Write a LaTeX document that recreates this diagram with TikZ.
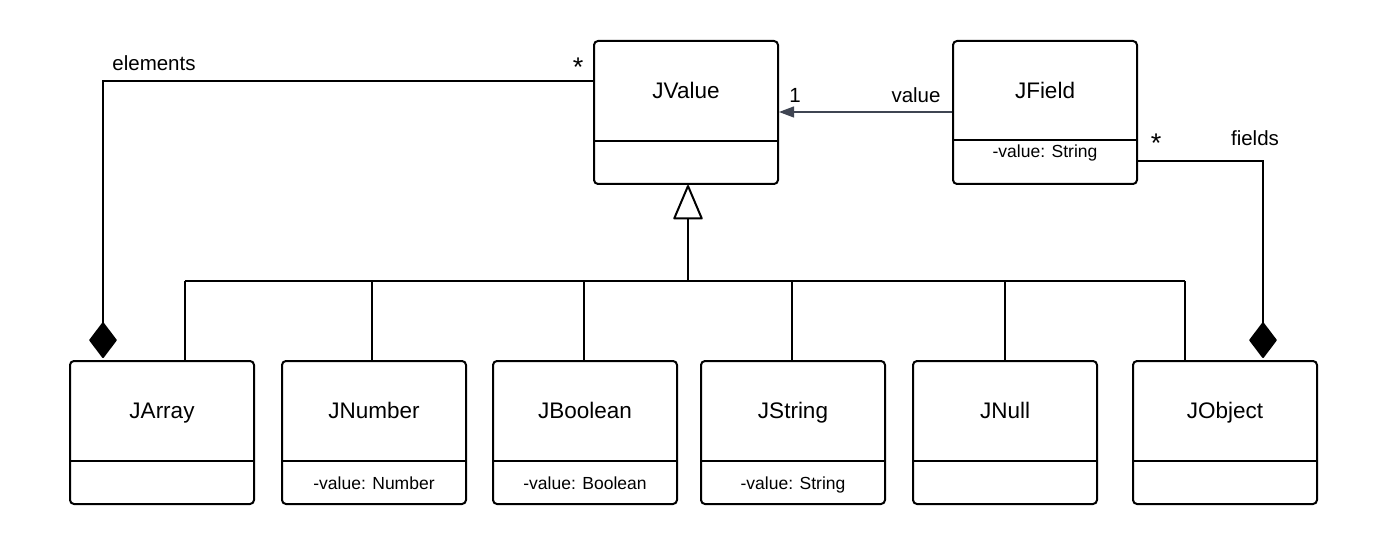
\documentclass[tikz,border=0pt]{standalone}
\usepackage{fontspec}
\setmainfont{Liberation Sans}
\usetikzlibrary{arrows.meta,calc}
\definecolor{arrowgray}{HTML}{3F4552}
\tikzset{
  classbox/.style={draw, line width=2pt, rounded corners=4pt, minimum width=184pt, minimum height=143pt, anchor=north west, inner sep=0pt},
  titletext/.style={font=\fontsize{22.5}{26}\selectfont, inner sep=0pt, anchor=base},
  attrtext/.style={font=\fontsize{17.5}{21}\selectfont, inner sep=0pt, anchor=base},
  labeltext/.style={font=\fontsize{20.5}{24}\selectfont, inner sep=0pt, anchor=base},
  multtext/.style={font=\fontsize{27}{30}\selectfont, inner sep=0pt},
  conn/.style={line width=2pt},
  comptip/.style={-{Diamond[length=37pt,width=28pt,round]}},
  gentip/.style={-{Triangle[open,length=36pt,width=30pt,round]}},
  valarrow/.style={draw=arrowgray, line width=1.2pt, -{Triangle[length=15pt,width=11pt]}, arrowgray},
}
% name, x, y(top), title, attr, divider offset, attr baseline offset
\newcommand\umlclass[7]{%
  \node[classbox] (#1) at (#2,#3) {};
  \draw[line width=2pt] ($(#1.north west)+(0,#6)$) -- ($(#1.north east)+(0,#6)$);
  \node[titletext] (#1-title) at ($(#1.north)+(0,58.5)$) {#4};
  \node[attrtext] (#1-attr) at ($(#1.north)+(0,#7)$) {#5};
}
\begin{document}
\begin{tikzpicture}[x=1pt,y=-1pt]
\useasboundingbox (0,0) rectangle (1384,553);
% classes
\umlclass{jvalue}{593}{40}{JValue}{}{101}{129}
\umlclass{jfield}{952}{40}{JField}{-value: String}{100}{118}
\umlclass{jarray}{69}{360}{JArray}{}{101}{129}
\umlclass{jnumber}{281}{360}{JNumber}{-value: Number}{101}{129}
\umlclass{jboolean}{492}{360}{JBoolean}{-value: Boolean}{101}{129}
\umlclass{jstring}{700}{360}{JString}{-value: String}{101}{129}
\umlclass{jnull}{912}{360}{JNull}{}{101}{129}
\umlclass{jobject}{1132}{360}{JObject}{}{101}{129}
% generalization
\coordinate (genbase) at (688,281);
\coordinate (busA) at (185,281);
\coordinate (busB) at (372,281);
\coordinate (busC) at (584,281);
\coordinate (busD) at (792,281);
\coordinate (busE) at (1005,281);
\coordinate (busF) at (1185,281);
\draw[conn, gentip] (genbase) -- (genbase |- jvalue.south);
\draw[conn] (busA) -- (busF);
\draw[conn] (busA) -- (busA |- jarray.north);
\draw[conn] (busB) -- (busB |- jnumber.north);
\draw[conn] (busC) -- (busC |- jboolean.north);
\draw[conn] (busD) -- (busD |- jstring.north);
\draw[conn] (busE) -- (busE |- jnull.north);
\draw[conn] (busF) -- (busF |- jobject.north);
% elements composition
\coordinate (elemcorner) at (103,81);
\draw[conn, comptip] (elemcorner -| jvalue.west) -- (elemcorner) -- ($(elemcorner |- jarray.north)+(0,-2)$);
\node[labeltext] (elemlabel) at (154,71) {elements};
\node[multtext] (elemmult) at (578,67) {*};
% fields composition
\coordinate (fieldcorner) at (1263,161);
\draw[conn, comptip] (fieldcorner -| jfield.east) -- (fieldcorner) -- ($(fieldcorner |- jobject.north)+(0,-2)$);
\node[labeltext] (fieldlabel) at (1255,146) {fields};
\node[multtext] (fieldmult) at (1156,143) {*};
% value association
\coordinate (valy) at (0,112);
\draw[valarrow] (valy -| jfield.west) -- (valy -| jvalue.east);
\node[labeltext] (vallabel) at (916,103) {value};
\node[labeltext] (valmult) at (795,103) {1};
\end{tikzpicture}
\end{document}
